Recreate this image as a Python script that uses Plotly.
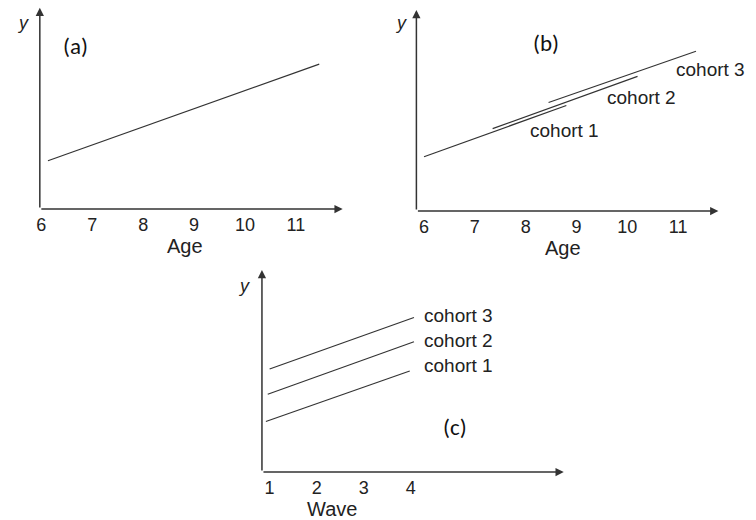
import plotly.graph_objects as go

# ---------------- data ----------------
AGE_TICKS = [6, 7, 8, 9, 10, 11]
WAVE_TICKS = [1, 2, 3, 4]

# panel (a): single age trajectory
A_AGE = [6.13, 11.46]
A_Y = [2.4, 7.2]

# panel (b): overlapping cohorts plotted against age
B_C1_AGE = [6.0, 8.8]
B_C1_Y = [2.7, 5.25]
B_C2_AGE = [7.35, 10.2]
B_C2_Y = [4.1, 6.7]
B_C3_AGE = [8.45, 11.35]
B_C3_Y = [5.4, 7.95]

# panel (c): cohorts plotted against wave
C_C1_WAVE = [0.92, 3.98]
C_C1_Y = [2.5, 5.0]
C_C2_WAVE = [0.96, 4.07]
C_C2_Y = [3.85, 6.45]
C_C3_WAVE = [1.0, 4.07]
C_C3_Y = [5.1, 7.65]

COHORT_LABELS = ["cohort 1", "cohort 2", "cohort 3"]

# ---------------- figure ----------------
LINE = "#333333"
TXT = "#222222"
FONT = "Liberation Sans, Arial, Helvetica, sans-serif"

fig = go.Figure()


def seg(x, y, xa, ya):
    fig.add_trace(go.Scatter(x=x, y=y, mode="lines", xaxis=xa, yaxis=ya,
                             line=dict(color=LINE, width=1.2),
                             showlegend=False, hoverinfo="skip"))


seg(A_AGE, A_Y, "x", "y")
seg(B_C1_AGE, B_C1_Y, "x2", "y2")
seg(B_C2_AGE, B_C2_Y, "x2", "y2")
seg(B_C3_AGE, B_C3_Y, "x2", "y2")
seg(C_C1_WAVE, C_C1_Y, "x3", "y3")
seg(C_C2_WAVE, C_C2_Y, "x3", "y3")
seg(C_C3_WAVE, C_C3_Y, "x3", "y3")

tickfont = dict(family=FONT, size=18, color=TXT)


def xax(domain, rng, ticks, anchor):
    return dict(domain=domain, range=rng, tickmode="array", tickvals=ticks,
                ticktext=[str(t) for t in ticks], ticks="", showgrid=False,
                zeroline=False, showline=False, tickfont=tickfont,
                anchor=anchor, fixedrange=True, ticklabelstandoff=3)


def yax(domain, anchor):
    return dict(domain=domain, range=[0, 10], showticklabels=False, ticks="",
                showgrid=False, zeroline=False, showline=False, anchor=anchor,
                fixedrange=True)


fig.update_layout(
    width=756, height=520,
    margin=dict(l=0, r=0, t=0, b=0),
    paper_bgcolor="white", plot_bgcolor="white",
    xaxis=xax([0.0489, 0.4511], [5.97, 11.92], AGE_TICKS, "y"),
    yaxis=yax([0.598, 0.985], "x"),
    xaxis2=xax([0.549, 0.950], [5.85, 11.79], AGE_TICKS, "y2"),
    yaxis2=yax([0.5942, 0.9808], "x2"),
    xaxis3=xax([0.3439, 0.7447], [0.837, 7.256], WAVE_TICKS, "y3"),
    yaxis3=yax([0.0923, 0.4808], "x3"),
)

ann = []
# axis lines with arrowheads
for xs, ys in [("x", "y"), ("x2", "y2"), ("x3", "y3")]:
    for (tx, ty) in [(1, 0), (0, 1)]:
        ann.append(dict(xref=f"{xs} domain", yref=f"{ys} domain",
                        axref=f"{xs} domain", ayref=f"{ys} domain",
                        x=tx, y=ty, ax=0, ay=0, text="", showarrow=True,
                        arrowhead=2, arrowsize=1.1, arrowwidth=1.5,
                        arrowcolor=LINE))

# axis titles
for xs, ys, xt, title in [("x", "y", 0.48, "Age"), ("x2", "y2", 0.485, "Age"),
                          ("x3", "y3", 0.231, "Wave")]:
    ann.append(dict(xref=f"{xs} domain", yref=f"{ys} domain", x=xt, y=0,
                    yshift=-37, text=title, showarrow=False, xanchor="center",
                    yanchor="middle", font=dict(family=FONT, size=20, color=TXT)))

# y labels
for px, py in [(0.0265, 0.956), (0.5287, 0.956), (0.3197, 0.45)]:
    ann.append(dict(xref="paper", yref="paper", x=px, y=py, text="<i>y</i>",
                    showarrow=False, xanchor="center", yanchor="middle",
                    font=dict(family=FONT, size=18, color=TXT)))

# panel letters
for px, py, t in [(0.0962, 0.912, "(a)"), (0.7205, 0.918, "(b)"), (0.6005, 0.178, "(c)")]:
    ann.append(dict(xref="paper", yref="paper", x=px, y=py, text=t,
                    showarrow=False, xanchor="center", yanchor="middle",
                    font=dict(family="Carlito, Lato, Open Sans", size=23, color="#111111")))

# cohort labels
cohort_font = dict(family=FONT, size=19, color=TXT)
for (x, y), t in zip([(8.04, 4.03), (9.57, 5.66), (10.91, 7.05)], COHORT_LABELS):
    ann.append(dict(xref="x2", yref="y2", x=x, y=y, text=t, showarrow=False,
                    xanchor="left", yanchor="middle", font=cohort_font))
for (x, y), t in zip([(4.25, 5.25), (4.25, 6.53), (4.25, 7.77)], COHORT_LABELS):
    ann.append(dict(xref="x3", yref="y3", x=x, y=y, text=t, showarrow=False,
                    xanchor="left", yanchor="middle", font=cohort_font))

fig.update_layout(annotations=ann)
fig.write_html("out.html")
